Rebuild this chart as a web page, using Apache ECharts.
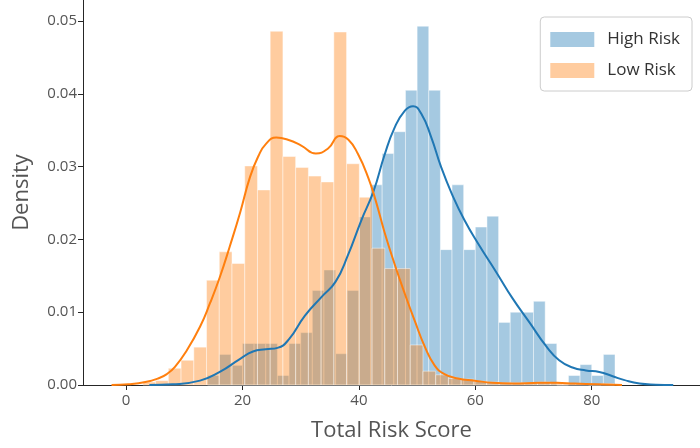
<!DOCTYPE html>
<html>
<head>
<meta charset="utf-8">
<script src="https://cdn.jsdelivr.net/npm/echarts@6/dist/echarts.min.js"></script>
<style>html,body{margin:0;padding:0;background:#fff}#chart{width:700px;height:448px}</style>
</head>
<body>
<div id="chart"></div>
<script>
// ---- data ----
const seriesNames = ['High Risk', 'Low Risk'];
const xTicks = [0, 20, 40, 60, 80];
const yTicks = [0, 0.01, 0.02, 0.03, 0.04, 0.05];

// High Risk histogram: first bin edge, bin width, density per bin
const highBinStart = 14;
const highBinWidth = 2;
const highDensity = [0.0013, 0.0042, 0.0027, 0.0057, 0.0057, 0.0057, 0.0013, 0.0057, 0.0072, 0.0130,
  0.0158, 0.0043, 0.0130, 0.0231, 0.0275, 0.0318, 0.0348, 0.0405, 0.0493, 0.0405,
  0.0186, 0.0275, 0.0186, 0.0217, 0.0232, 0.0086, 0.0100, 0.0100, 0.0115, 0.0057,
  0.0000, 0.0013, 0.0028, 0.0013, 0.0042];

// Low Risk histogram
const lowBinStart = 2.89;
const lowBinWidth = 2.187;
const lowDensity = [0.0004, 0.0006, 0.0023, 0.0034, 0.0052, 0.0144, 0.0183, 0.0167, 0.0301, 0.0268,
  0.0486, 0.0314, 0.0299, 0.0287, 0.0279, 0.0485, 0.0304, 0.0258, 0.0188, 0.0160,
  0.0160, 0.0055, 0.0019, 0.0014, 0.0009, 0.0008, 0.0005, 0.0004, 0.0003, 0.0003,
  0.0003, 0.0004, 0.0003, 0.0002, 0.0002, 0.0000, 0.0002];

// KDE curves [score, density]
const highKde = [[4, 0], [8, 0.0001], [12.7, 0.0006], [16.1, 0.0018], [19.6, 0.0036], [21.8, 0.0046],
  [24, 0.0049], [26, 0.0051], [28, 0.0063], [30.7, 0.0095], [33.6, 0.0121], [36, 0.0142],
  [38.1, 0.0178], [40.4, 0.0226], [42.5, 0.0266], [44.4, 0.0316], [46.1, 0.0353], [47.9, 0.0377],
  [49.3, 0.0383], [50.7, 0.0373], [52.4, 0.0341], [54.1, 0.0300], [56, 0.0262], [58.1, 0.0227],
  [60.5, 0.0194], [63.6, 0.0155], [66.4, 0.0119], [69.3, 0.0086], [72.2, 0.0053], [74.4, 0.0034],
  [76.7, 0.0024], [79, 0.0020], [81.3, 0.0018], [83.6, 0.0012], [85.5, 0.0007], [88.2, 0.0002],
  [91, 0.00005], [94, 0]];
const lowKde = [[-2.5, 0], [0.4, 0.0001], [3.3, 0.0004], [5.5, 0.0009], [7, 0.0015], [8.4, 0.0025],
  [10.4, 0.0047], [12.7, 0.0080], [14.4, 0.0112], [16.1, 0.0148], [17.8, 0.0190], [19.6, 0.0237],
  [21.3, 0.0286], [22.7, 0.0314], [24, 0.0331], [25.8, 0.0340], [27.8, 0.0337], [30.1, 0.0329],
  [32.6, 0.0318], [34.7, 0.0325], [36.7, 0.0342], [38.2, 0.0337], [39.8, 0.0318], [41.6, 0.0285],
  [42.9, 0.0253], [44.4, 0.0210], [46.1, 0.0167], [47.9, 0.0125], [49.6, 0.0088], [51.3, 0.0053],
  [53, 0.0027], [54.7, 0.0015], [57, 0.0009], [59.9, 0.0006], [63, 0.0003], [66.4, 0.0002],
  [71, 0.0003], [74, 0.0003], [77, 0.0002], [81, 0.0001], [85.2, 0]];

// ---- build ----
function bins(start, width, vals) {
  return vals.map((v, i) => [start + i * width, start + (i + 1) * width, v]);
}
const blueFill = 'rgba(31,119,180,0.4)';
const orangeFill = 'rgba(255,127,14,0.4)';
function histRender(fill) {
  return function (params, api) {
    const p0 = api.coord([api.value(0), api.value(2)]);
    const p1 = api.coord([api.value(1), 0]);
    return {
      type: 'rect',
      shape: { x: p0[0], y: p0[1], width: p1[0] - p0[0], height: p1[1] - p0[1] },
      style: { fill: fill, stroke: 'rgba(255,255,255,0.45)', lineWidth: 1 }
    };
  };
}
const font = '"Open Sans", "Noto Sans", sans-serif';
const chart = echarts.init(document.getElementById('chart'), null, { renderer: 'canvas' });
chart.setOption({
  animation: false,
  backgroundColor: '#fff',
  grid: { left: 83, right: 0, top: 0, bottom: 63 },
  legend: {
    data: [{ name: seriesNames[0], itemStyle: { color: blueFill } }, { name: seriesNames[1], itemStyle: { color: orangeFill } }],
    orient: 'vertical', right: 8, top: 17,
    icon: 'rect', itemWidth: 44, itemHeight: 15, itemGap: 14,
    padding: [14, 12, 12, 10],
    borderColor: '#cccccc', borderWidth: 1, borderRadius: 4,
    textStyle: { fontFamily: font, fontSize: 17, color: '#333', padding: [0, 0, 0, 8] }
  },
  xAxis: {
    type: 'value', min: -7.4, max: 98.6, position: 'bottom',
    name: 'Total Risk Score', nameLocation: 'middle', nameGap: 35,
    nameTextStyle: { fontFamily: font, fontSize: 22, color: '#555' },
    axisLine: { show: true, onZero: false, lineStyle: { color: '#262626', width: 1 } },
    axisTick: { show: true, length: 5, lineStyle: { color: '#262626' }, customValues: xTicks },
    axisLabel: { fontFamily: font, fontSize: 15, color: '#555', margin: 8, customValues: xTicks },
    splitLine: { show: false }
  },
  yAxis: {
    type: 'value', min: 0, max: 0.0529, position: 'left',
    name: 'Density', nameLocation: 'middle', nameGap: 50,
    nameTextStyle: { fontFamily: font, fontSize: 22, color: '#555' },
    axisLine: { show: true, onZero: false, lineStyle: { color: '#262626', width: 1 } },
    axisTick: { show: true, length: 5, lineStyle: { color: '#262626' }, customValues: yTicks },
    axisLabel: { fontFamily: font, fontSize: 15, color: '#555', margin: 6, customValues: yTicks,
      formatter: v => v.toFixed(2) },
    splitLine: { show: false }
  },
  series: [
    { name: seriesNames[0], type: 'custom', renderItem: histRender(blueFill), itemStyle: { color: blueFill },
      encode: { x: [0, 1], y: 2 }, data: bins(highBinStart, highBinWidth, highDensity), z: 1 },
    { name: seriesNames[1], type: 'custom', renderItem: histRender(orangeFill), itemStyle: { color: orangeFill },
      encode: { x: [0, 1], y: 2 }, data: bins(lowBinStart, lowBinWidth, lowDensity), z: 2 },
    { name: 'High KDE', type: 'line', data: highKde, showSymbol: false, symbol: 'none', smooth: 0.5,
      lineStyle: { color: '#1f77b4', width: 2 }, itemStyle: { color: '#1f77b4' }, z: 3 },
    { name: 'Low KDE', type: 'line', data: lowKde, showSymbol: false, symbol: 'none', smooth: 0.5,
      lineStyle: { color: '#ff7f0e', width: 2 }, itemStyle: { color: '#ff7f0e' }, z: 4 }
  ]
});
</script>
</body>
</html>
